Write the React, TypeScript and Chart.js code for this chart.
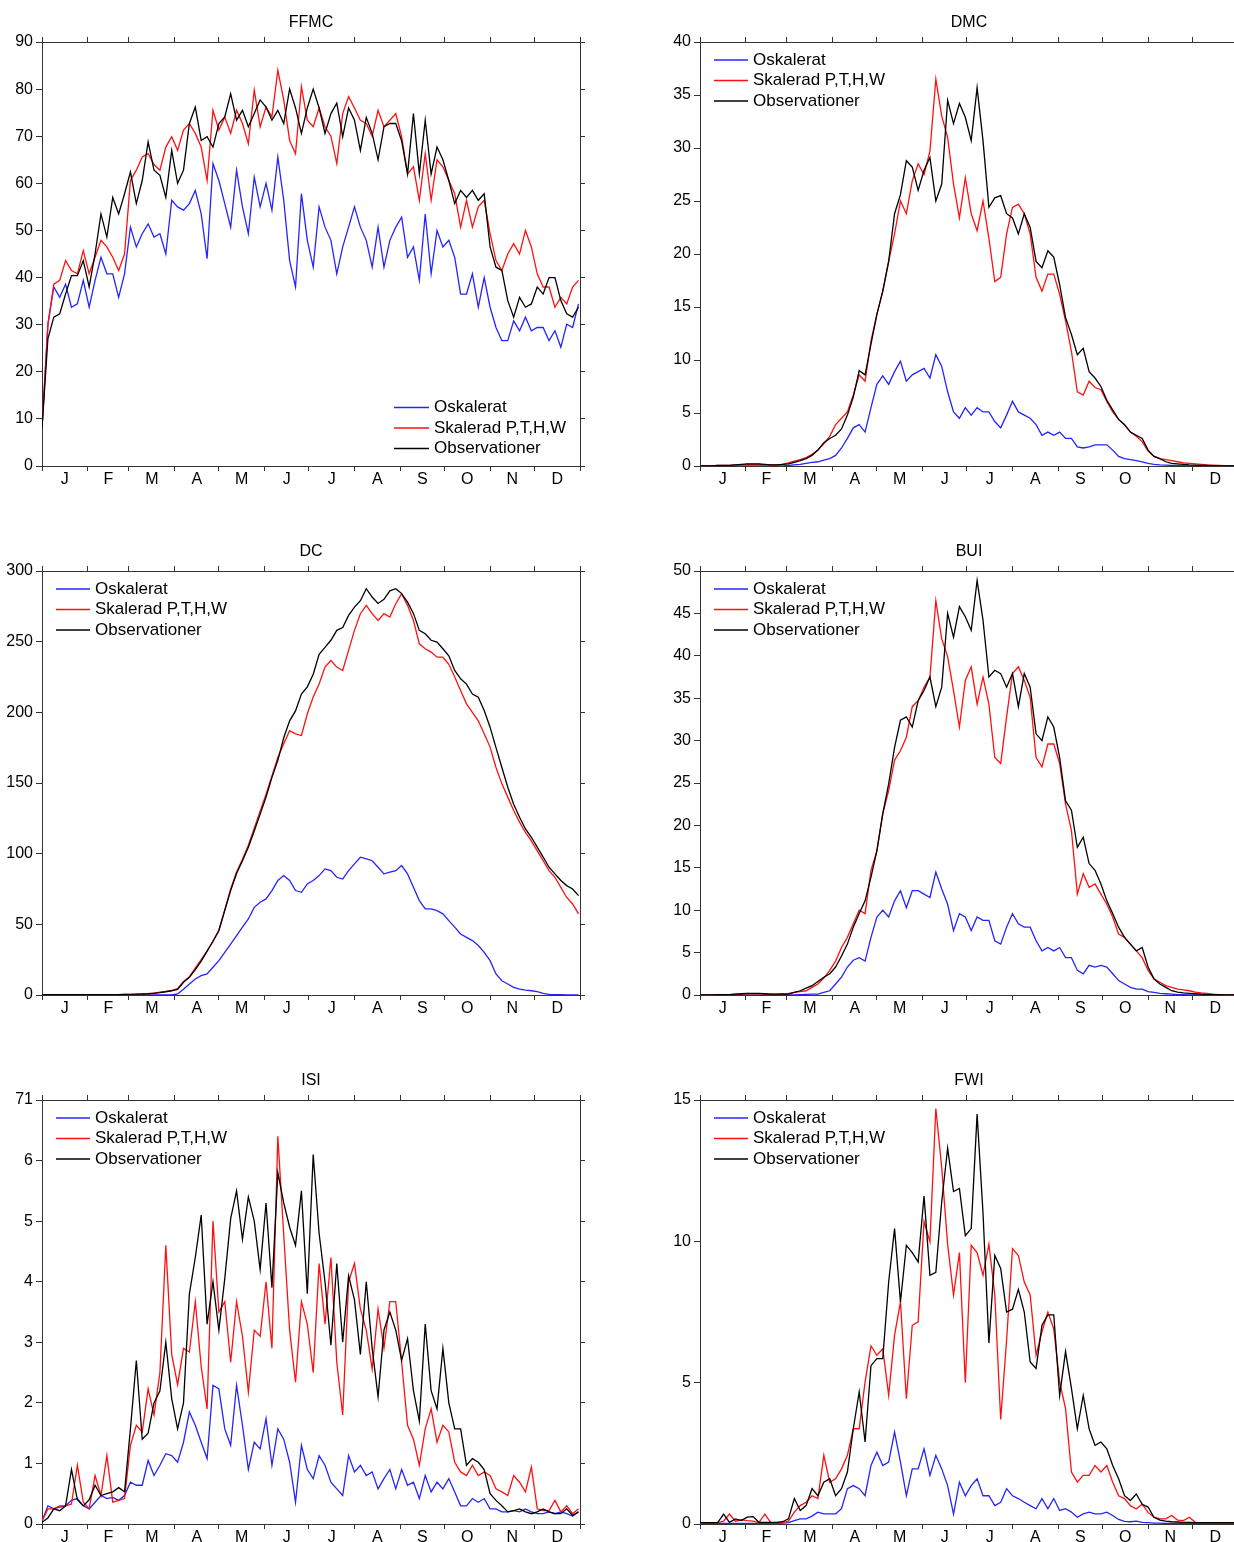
import React, { useEffect, useRef } from 'react';
import { Chart, registerables } from 'chart.js';

Chart.register(...registerables);

const FONT_FAMILY = '"Liberation Sans", Arial, Helvetica, sans-serif';
const AXIS_COLOR = '#333333';

// x positions: day of year, sampled every 4 days (0..364)
const days: number[] = Array.from({ length: 92 }, (_, i) => i * 4);

const monthBounds = [0, 31, 59, 90, 120, 151, 181, 212, 243, 273, 304, 334, 365];
const monthLetters = ['J', 'F', 'M', 'A', 'M', 'J', 'J', 'A', 'S', 'O', 'N', 'D'];

const seriesLabels = ['Oskalerat', 'Skalerad P,T,H,W', 'Observationer'];
const seriesColors = ['#2424ff', '#ff1010', '#000000'];

// ---------------- FFMC ----------------
const ffmcOsk = [
  8, 30, 38, 35.8, 38.6, 33.7, 34.4, 39.4, 33.7, 39.4,
  44.3, 40.8, 40.8, 35.8, 40.8, 50.7, 46.5, 49.3, 51.4, 48.6,
  49.3, 45, 56.4, 55, 54.3, 55.7, 58.5, 53.5, 44, 64.2,
  60.6, 55.7, 50.7, 62.8, 55, 49.3, 61.3, 55, 60, 54.3,
  65.6, 56.4, 43.6, 38, 57.8, 47.9, 42.2, 55, 50.7, 47.9,
  40.8, 46.5, 50.7, 55, 50.7, 47.9, 42.2, 50.7, 42.2, 47.9,
  50.7, 52.8, 44.3, 46.5, 39.4, 53.5, 40.8, 50, 46.5, 47.9,
  44.3, 36.5, 36.5, 40.8, 33.7, 40, 33.7, 29.4, 26.6, 26.6,
  30.8, 28.7, 31.6, 28.7, 29.4, 29.4, 26.6, 28.7, 25.2, 30.1,
  29.4, 34.4,
];
const ffmcSkal = [
  8, 30, 38.6, 39.4, 43.6, 41.5, 40.8, 45.7, 40.8, 44.3,
  47.9, 46.5, 44.3, 41.5, 45, 60.6, 62.8, 65.6, 66.3, 64,
  62.8, 67.7, 69.9, 67, 71.3, 72.7, 70.6, 67.7, 60.6, 75.5,
  71.3, 74.1, 70.6, 75.5, 72.7, 68.4, 79.8, 72, 76.2, 74.1,
  84, 77.7, 69.1, 66.3, 80.5, 73.4, 72, 76, 72, 70,
  64.2, 74.8, 78.4, 76, 73.4, 72.7, 70, 75.5, 72, 73.4,
  74.8, 69.9, 62, 63.5, 56.4, 66.3, 56.4, 65, 63.5, 60.6,
  57.8, 50.7, 56.4, 50.7, 55, 56.4, 49.3, 43.6, 41.5, 45,
  47.2, 45, 50, 46.5, 40.8, 38, 38, 33.7, 35.8, 34.4,
  38, 39.4,
];
const ffmcObs = [
  8, 27, 31.6, 32.3, 36.5, 40.4, 40.4, 43.6, 38, 45,
  53.5, 48.6, 57, 53.5, 57.8, 62.4, 55.7, 60.6, 68.8, 62.8,
  61.7, 57, 67, 60, 62.8, 72.7, 76.2, 69.1, 69.9, 67.7,
  72.7, 74.1, 79, 73.4, 75.5, 72, 74.8, 77.7, 76.2, 73.4,
  75.5, 72.7, 80, 76, 70.6, 76, 80, 76, 70.6, 74.8,
  77, 69.9, 76, 73.4, 67, 74, 70.6, 65, 72, 72.7,
  72.7, 69, 62, 74.8, 62, 73.4, 62, 67.7, 65, 60.6,
  55.7, 58.5, 57, 58.5, 56.4, 57.8, 46.5, 42.2, 41.5, 35.1,
  31.6, 35.8, 33.7, 34.4, 38, 36.5, 40, 40, 35.1, 32.3,
  31.6, 33.7,
];

// ---------------- DMC ----------------
const dmcOsk = [
  0, 0, 0, 0, 0, 0, 0, 0, 0, 0,
  0, 0, 0, 0, 0, 0.05, 0.1, 0.15, 0.25, 0.35,
  0.4, 0.55, 0.7, 1, 1.7, 2.6, 3.6, 3.9, 3.2, 5.5,
  7.7, 8.5, 7.7, 8.9, 9.9, 8, 8.6, 8.9, 9.2, 8.3,
  10.5, 9.4, 7, 5.1, 4.5, 5.5, 4.8, 5.5, 5.1, 5.1,
  4.2, 3.6, 4.8, 6.1, 5.1, 4.8, 4.5, 3.9, 2.9, 3.2,
  2.9, 3.2, 2.6, 2.6, 1.8, 1.7, 1.8, 2, 2, 2,
  1.5, 0.9, 0.7, 0.6, 0.5, 0.4, 0.25, 0.15, 0.1, 0.08,
  0.05, 0.05, 0.03, 0.02, 0.01, 0, 0, 0, 0, 0,
  0, 0,
];
const dmcSkal = [
  0, 0, 0, 0.05, 0.05, 0.05, 0.1, 0.1, 0.15, 0.15,
  0.15, 0.1, 0.1, 0.1, 0.15, 0.3, 0.45, 0.6, 0.8, 1.1,
  1.5, 2.1, 2.8, 3.9, 4.5, 5.1, 6.7, 8.6, 8, 11.8,
  14.3, 16.5, 19.3, 21.9, 25, 23.8, 26.9, 28.5, 27.5, 29.7,
  36.5, 33, 31, 26.6, 23.4, 27.2, 23.8, 22.2, 25, 21.5,
  17.4, 17.8, 21.9, 24.4, 24.7, 23.8, 21.9, 17.8, 16.5, 18.1,
  18.1, 16.2, 13.7, 10.8, 7, 6.7, 8, 7.4, 7.2, 6.1,
  5.1, 4.4, 3.9, 3.2, 2.8, 2.3, 1.4, 0.9, 0.7, 0.6,
  0.5, 0.4, 0.3, 0.25, 0.2, 0.15, 0.1, 0.08, 0.05, 0.03,
  0.02, 0.01,
];
const dmcObs = [
  0, 0, 0, 0.05, 0.05, 0.05, 0.1, 0.15, 0.2, 0.2,
  0.2, 0.15, 0.1, 0.1, 0.15, 0.2, 0.35, 0.5, 0.7, 1,
  1.5, 2.2, 2.6, 2.9, 3.5, 4.8, 6.5, 9, 8.6, 11.5,
  14.3, 16.5, 19.3, 23.8, 25.6, 28.8, 28.2, 26, 27.9, 29.1,
  25, 26.6, 34.5, 32.3, 34.2, 32.9, 30.7, 35.7, 30.7, 24.4,
  25.3, 25.5, 23.8, 23.4, 21.9, 23.8, 22.5, 19.3, 18.7, 20.3,
  19.7, 17.1, 14, 12.4, 10.5, 11.1, 8.9, 8.3, 7.5, 6.2,
  5.3, 4.4, 3.9, 3.2, 2.9, 2.6, 1.5, 0.9, 0.7, 0.4,
  0.25, 0.2, 0.15, 0.1, 0.08, 0.05, 0.05, 0.03, 0.02, 0.02,
  0.01, 0,
];

// ---------------- DC ----------------
const dcOsk = [
  0, 0, 0, 0, 0, 0, 0, 0, 0, 0,
  0, 0, 0, 0, 0, 0, 0, 0, 0, 0,
  0, 0, 0, 0.7, 4, 7.8, 11.3, 13.7, 14.9, 19.6,
  24.3, 30.2, 36, 42, 48, 53.8, 62, 65.6, 68, 73.9,
  81, 84.5, 81, 73.9, 72.7, 78.6, 81, 84.5, 89.2, 88,
  83.3, 82, 88, 92.8, 97.5, 96.3, 95, 90.4, 85.7, 86.9,
  88, 91.6, 85.7, 76.2, 66.8, 61, 61, 59.7, 57.4, 52.6,
  48, 43.2, 40.8, 38.5, 35, 30.2, 24.3, 14.9, 10.1, 7.8,
  5.4, 4.2, 3.5, 3, 2.4, 1.2, 0.5, 0.3, 0.2, 0,
  0, 0,
];
const dcSkal = [
  0.2, 0.2, 0.2, 0.2, 0.2, 0.2, 0.3, 0.3, 0.3, 0.3,
  0.3, 0.3, 0.3, 0.3, 0.4, 0.5, 0.6, 0.8, 1, 1.4,
  2, 2.6, 3.3, 4.5, 9.5, 13, 19, 25, 31, 38,
  46, 60, 75, 87, 96, 106, 118, 130, 142, 155,
  168, 177.7, 187, 184.8, 183.6, 199, 210.8, 220, 232, 236.7,
  232, 229.6, 243.8, 258, 269.8, 275.7, 269.8, 265, 269.8, 267.4,
  276.8, 284, 275.7, 265, 248.5, 245, 242.6, 239, 239, 234,
  225, 215.5, 206, 200, 194, 184.8, 175.4, 161, 149.4, 140,
  130.5, 122.3, 115, 109, 102, 95, 88, 83.3, 76.2, 69,
  64.4, 57.4,
];
const dcObs = [
  0.2, 0.2, 0.2, 0.2, 0.2, 0.2, 0.3, 0.3, 0.3, 0.3,
  0.3, 0.3, 0.3, 0.3, 0.4, 0.5, 0.6, 0.7, 0.9, 1.2,
  1.7, 2.3, 3, 4, 9, 12.5, 18, 24, 31, 38,
  45.5, 60, 74, 86, 95, 104.6, 116, 128, 140, 154,
  166, 182, 194, 201, 213, 218, 227, 241, 246, 251,
  258, 260, 268.6, 274.5, 279, 287.5, 281.6, 277, 280, 286,
  287.5, 284, 278, 270, 258, 255.6, 251, 249.7, 245, 240,
  229.6, 223.7, 220, 213, 210.7, 201.3, 189.5, 175, 161, 147,
  135, 125.8, 117.5, 111.6, 104.6, 97.5, 90.4, 85.7, 81, 77.4,
  75, 70.3,
];

// ---------------- BUI ----------------
const buiOsk = [
  0, 0, 0, 0, 0, 0, 0, 0, 0, 0,
  0, 0, 0, 0, 0, 0, 0.02, 0.05, 0.08, 0.1,
  0.1, 0.3, 0.5, 1.3, 2.1, 3.3, 4.1, 4.4, 4, 6.8,
  9.2, 10, 9.2, 11.1, 12.3, 10.3, 12.3, 12.3, 11.9, 11.5,
  14.5, 12.5, 10.7, 7.6, 9.6, 9.2, 7.6, 9.2, 8.8, 8.8,
  6.4, 6, 8, 9.6, 8.4, 8, 8, 6.4, 5.2, 5.6,
  5.2, 5.6, 4.4, 4.4, 2.9, 2.5, 3.5, 3.3, 3.5, 3.3,
  2.5, 1.7, 1.3, 0.9, 0.7, 0.7, 0.4, 0.3, 0.2, 0.15,
  0.1, 0.05, 0.03, 0.02, 0.01, 0, 0, 0, 0, 0,
  0, 0,
];
const buiSkal = [
  0, 0, 0, 0.05, 0.05, 0.05, 0.1, 0.1, 0.15, 0.15,
  0.15, 0.1, 0.1, 0.1, 0.15, 0.2, 0.3, 0.4, 0.5, 0.9,
  1.3, 2, 2.9, 4, 5.6, 6.8, 8.4, 10, 9.6, 14.7,
  17, 21.4, 24.1, 27.7, 28.8, 30.4, 34, 34.7, 36.3, 37.5,
  46.5, 42, 39.9, 35.9, 31.6, 37.1, 38.7, 34.3, 37.5, 34.3,
  28, 27.3, 32.8, 37.9, 38.7, 37.1, 35.1, 28, 26.9, 29.6,
  29.6, 27.3, 22.5, 19.4, 11.9, 14.3, 12.7, 13.1, 11.9, 10.7,
  9.2, 7.2, 6.8, 6, 5.2, 4.4, 2.9, 1.9, 1.5, 1.1,
  0.9, 0.7, 0.6, 0.5, 0.35, 0.25, 0.2, 0.1, 0.05, 0.03,
  0.02, 0.01,
];
const buiObs = [
  0, 0, 0, 0.05, 0.05, 0.05, 0.1, 0.15, 0.2, 0.2,
  0.2, 0.15, 0.1, 0.1, 0.1, 0.1, 0.3, 0.5, 0.8, 1.1,
  1.6, 2.1, 2.5, 3.3, 4.6, 6, 8, 9.6, 11.1, 13.9,
  17, 21.4, 24.9, 29.2, 32.4, 32.8, 31.6, 34.7, 35.9, 37.5,
  34, 36.3, 45, 42.2, 45.8, 44.6, 43, 48.9, 44.2, 37.5,
  38.3, 37.9, 36.3, 37.9, 34, 37.9, 36.3, 30.8, 30, 32.8,
  31.6, 28, 22.9, 21.8, 17.4, 18.6, 15.5, 14.7, 13.1, 11.1,
  9.6, 8, 6.8, 6, 5.2, 5.6, 3.3, 1.9, 1.3, 0.9,
  0.5, 0.35, 0.25, 0.2, 0.15, 0.1, 0.05, 0.05, 0.03, 0.02,
  0.01, 0,
];

// ---------------- ISI ----------------
const isiOsk = [
  0.05, 0.3, 0.25, 0.28, 0.3, 0.39, 0.42, 0.3, 0.25, 0.36,
  0.47, 0.42, 0.44, 0.39, 0.47, 0.69, 0.64, 0.64, 1.05, 0.8,
  0.97, 1.16, 1.13, 1.02, 1.35, 1.85, 1.63, 1.35, 1.08, 2.29,
  2.23, 1.57, 1.3, 2.29, 1.63, 0.9, 1.35, 1.24, 1.74, 0.97,
  1.57, 1.4, 1.02, 0.36, 1.3, 0.9, 0.75, 1.13, 0.97, 0.69,
  0.58, 0.47, 1.13, 0.86, 0.97, 0.8, 0.86, 0.58, 0.75, 0.9,
  0.58, 0.9, 0.64, 0.69, 0.42, 0.8, 0.53, 0.69, 0.58, 0.75,
  0.53, 0.3, 0.3, 0.42, 0.36, 0.42, 0.25, 0.25, 0.2, 0.2,
  0.22, 0.2, 0.25, 0.2, 0.17, 0.17, 0.2, 0.17, 0.2, 0.17,
  0.13, 0.2,
];
const isiSkal = [
  0.05, 0.25, 0.25, 0.3, 0.3, 0.33, 0.97, 0.36, 0.25, 0.8,
  0.47, 1.13, 0.36, 0.39, 0.42, 1.3, 1.63, 1.52, 2.23, 1.8,
  2.5, 4.6, 2.8, 2.3, 2.9, 2.84, 3.67, 2.6, 1.9, 5,
  3.5, 3.67, 2.67, 3.67, 3.1, 2.18, 3.2, 3.1, 4, 2.9,
  6.4, 4.77, 3.2, 2.34, 3.67, 3.3, 2.5, 4.3, 3.3, 4.4,
  2.67, 1.8, 4, 4.3, 3.55, 3.2, 2.56, 3.55, 2.9, 3.67,
  3.67, 2.67, 1.63, 1.4, 0.97, 1.57, 1.9, 1.35, 1.63, 1.52,
  1.02, 0.86, 0.8, 0.97, 0.8, 0.86, 0.8, 0.58, 0.53, 0.47,
  0.8, 0.69, 0.53, 0.94, 0.25, 0.22, 0.22, 0.39, 0.2, 0.3,
  0.17, 0.25,
];
const isiObs = [
  0.03, 0.1, 0.25, 0.22, 0.3, 0.9, 0.4, 0.3, 0.4, 0.64,
  0.47, 0.5, 0.53, 0.6, 0.53, 1.57, 2.7, 1.4, 1.5, 2,
  2.2, 3, 2.07, 1.57, 2, 3.8, 4.4, 5.1, 3.3, 4,
  3.2, 4.05, 5.04, 5.5, 4.7, 5.4, 5, 4.2, 5.3, 3.9,
  5.8, 5.3, 4.9, 4.6, 5.5, 3.8, 6.1, 4.8, 4, 2.95,
  4.3, 3, 4.1, 3.7, 2.8, 4, 2.9, 2.1, 3.2, 3.5,
  3.2, 2.7, 3.06, 2.2, 1.7, 3.3, 2.2, 1.9, 2.9, 2,
  1.57, 1.57, 0.97, 1.08, 1.02, 0.9, 0.5, 0.39, 0.3, 0.2,
  0.22, 0.25, 0.2, 0.17, 0.2, 0.25, 0.2, 0.17, 0.17, 0.25,
  0.14, 0.2,
];

// ---------------- FWI ----------------
const fwiOsk = [
  0.02, 0.02, 0.02, 0.02, 0.02, 0.02, 0.02, 0.02, 0.02, 0.02,
  0.02, 0.02, 0.02, 0.02, 0.03, 0.05, 0.12, 0.18, 0.18, 0.28,
  0.42, 0.36, 0.36, 0.36, 0.54, 1.25, 1.36, 1.25, 1, 2.07,
  2.54, 2.07, 2.19, 3.25, 2.19, 1, 1.95, 1.95, 2.66, 1.72,
  2.43, 1.95, 1.36, 0.35, 1.48, 1, 1.36, 1.6, 1, 1,
  0.65, 0.77, 1.25, 1, 0.9, 0.77, 0.65, 0.54, 0.9, 0.54,
  0.9, 0.48, 0.54, 0.42, 0.24, 0.36, 0.42, 0.36, 0.36, 0.42,
  0.3, 0.16, 0.09, 0.08, 0.1, 0.06, 0.05, 0.03, 0.03, 0.02,
  0.02, 0.02, 0.02, 0.02, 0.02, 0.02, 0.02, 0.02, 0.02, 0.02,
  0.02, 0.02,
];
const fwiSkal = [
  0.05, 0.05, 0.05, 0.05, 0.1, 0.35, 0.1, 0.15, 0.12, 0.1,
  0.05, 0.35, 0.05, 0.05, 0.05, 0.1, 0.42, 0.65, 0.77, 1,
  0.9, 2.43, 1.48, 1.6, 1.95, 2.43, 3.37, 3.37, 5.03, 6.3,
  5.97, 6.2, 4.55, 6.68, 7.86, 4.43, 7.03, 7.15, 10.7, 9.98,
  14.7, 12.6, 9.9, 8.1, 9.6, 5, 9.86, 9.6, 8.8, 9.9,
  8.1, 3.7, 6.5, 9.74, 9.5, 8.56, 8.1, 5.97, 6.8, 7.5,
  6.9, 5.03, 4.08, 1.84, 1.48, 1.72, 1.72, 2.07, 1.84, 2.07,
  1.48, 1, 0.9, 0.65, 0.53, 0.7, 0.41, 0.24, 0.18, 0.18,
  0.3, 0.14, 0.12, 0.24, 0.06, 0.05, 0.05, 0.05, 0.05, 0.05,
  0.05, 0.05,
];
const fwiObs = [
  0.05, 0.05, 0.05, 0.05, 0.35, 0.06, 0.18, 0.12, 0.24, 0.26,
  0.06, 0.06, 0.06, 0.06, 0.08, 0.18, 0.9, 0.48, 0.65, 1.25,
  1, 1.48, 1.6, 1, 1.25, 1.84, 3.37, 4.67, 2.9, 5.6,
  5.85, 5.85, 8.56, 10.45, 7.86, 9.86, 9.6, 9.27, 11.6, 8.8,
  8.9, 11.4, 13.3, 11.76, 11.87, 10.2, 10.45, 14.5, 11, 6.4,
  9.5, 9.04, 7.5, 7.6, 8.3, 7.5, 5.73, 5.5, 7.03, 7.4,
  7.4, 4.55, 6.1, 4.8, 3.37, 4.55, 3.37, 2.78, 2.9, 2.66,
  2.07, 1.6, 1, 0.83, 1.06, 0.7, 0.6, 0.24, 0.14, 0.1,
  0.08, 0.07, 0.06, 0.06, 0.05, 0.05, 0.05, 0.05, 0.05, 0.05,
  0.05, 0.05,
];

// y tick values per panel
const ffmcTicks = [0, 10, 20, 30, 40, 50, 60, 70, 80, 90];
const dmcTicks = [0, 5, 10, 15, 20, 25, 30, 35, 40];
const dcTicks = [0, 50, 100, 150, 200, 250, 300];
const buiTicks = [0, 5, 10, 15, 20, 25, 30, 35, 40, 45, 50];
const isiTicks = [0, 1, 2, 3, 4, 5, 6, 7];
const isiTickLabels = ['0', '1', '2', '3', '4', '5', '6', '71'];
const fwiTicks = [0, 5, 10, 15];

type PanelCfg = {
  title: string;
  left: number;
  top: number;
  yTicks: number[];
  yLabels?: string[];
  series: number[][];
  legend: 'tl' | 'br';
};

const panels: PanelCfg[] = [
  { title: 'FFMC', left: 0, top: 0, yTicks: ffmcTicks, series: [ffmcOsk, ffmcSkal, ffmcObs], legend: 'br' },
  { title: 'DMC', left: 658, top: 0, yTicks: dmcTicks, series: [dmcOsk, dmcSkal, dmcObs], legend: 'tl' },
  { title: 'DC', left: 0, top: 529, yTicks: dcTicks, series: [dcOsk, dcSkal, dcObs], legend: 'tl' },
  { title: 'BUI', left: 658, top: 529, yTicks: buiTicks, series: [buiOsk, buiSkal, buiObs], legend: 'tl' },
  { title: 'ISI', left: 0, top: 1058, yTicks: isiTicks, yLabels: isiTickLabels, series: [isiOsk, isiSkal, isiObs], legend: 'tl' },
  { title: 'FWI', left: 658, top: 1058, yTicks: fwiTicks, series: [fwiOsk, fwiSkal, fwiObs], legend: 'tl' },
];

const CANVAS_W = 600;
const CANVAS_H = 529;

const monthCenters = monthBounds.slice(0, 12).map((b, i) => (b + monthBounds[i + 1]) / 2);
const xTickValues = [...monthBounds, ...monthCenters].sort((a, b) => a - b);

function Panel({ cfg }: { cfg: PanelCfg }) {
  const ref = useRef<HTMLCanvasElement | null>(null);

  useEffect(() => {
    const canvas = ref.current;
    if (!canvas) return;
    const yMax = cfg.yTicks[cfg.yTicks.length - 1];
    const tickFont = { family: FONT_FAMILY, size: 16, lineHeight: 1 };

    const decor = {
      id: 'panelDecor',
      afterDatasetsDraw(chart: any) {
        const { ctx, chartArea } = chart;
        ctx.save();
        ctx.fillStyle = '#000';
        ctx.font = `16px ${FONT_FAMILY}`;
        ctx.textAlign = 'center';
        ctx.textBaseline = 'middle';
        ctx.fillText(cfg.title, (chartArea.left + chartArea.right) / 2, chartArea.top - 19);

        ctx.font = `17px ${FONT_FAMILY}`;
        ctx.textAlign = 'left';
        for (let k = 0; k < 3; k++) {
          let x0: number, x1: number, tx: number, y: number;
          if (cfg.legend === 'tl') {
            x0 = chartArea.left + 14;
            x1 = chartArea.left + 48;
            tx = chartArea.left + 53;
            y = chartArea.top + 18 + k * 20.5;
          } else {
            x0 = chartArea.left + 352;
            x1 = chartArea.left + 387;
            tx = chartArea.left + 392;
            y = chartArea.bottom - 58.5 + k * 20.5;
          }
          ctx.strokeStyle = seriesColors[k];
          ctx.lineWidth = 1.3;
          ctx.beginPath();
          ctx.moveTo(x0, y);
          ctx.lineTo(x1, y);
          ctx.stroke();
          ctx.fillStyle = '#000';
          ctx.fillText(seriesLabels[k], tx, y);
        }
        ctx.restore();
      },
    };

    const isBound = (v: number) => monthBounds.includes(v);

    const chart = new Chart(canvas, {
      type: 'line',
      data: {
        datasets: cfg.series.map((arr, k) => ({
          label: seriesLabels[k],
          data: days.map((d, i) => ({ x: d, y: arr[i] })),
          borderColor: seriesColors[k],
          backgroundColor: seriesColors[k],
          borderWidth: 1.3,
          pointRadius: 0,
          tension: 0,
          fill: false,
          order: 2 - k,
          xAxisID: 'x',
          yAxisID: 'y',
        })),
      },
      options: {
        responsive: false,
        animation: false,
        devicePixelRatio: 1,
        events: [],
        layout: { padding: 0 },
        plugins: {
          legend: { display: false },
          title: { display: false },
          tooltip: { enabled: false },
        },
        scales: {
          x: {
            type: 'linear',
            position: 'bottom',
            min: 0,
            max: 365,
            afterBuildTicks: (s: any) => {
              s.ticks = xTickValues.map((v) => ({ value: v }));
            },
            afterFit: (s: any) => {
              s.height = CANVAS_H - 466;
            },
            ticks: {
              autoSkip: false,
              maxRotation: 0,
              minRotation: 0,
              padding: 1,
              color: '#000',
              font: tickFont,
              callback: (v: any) => {
                const idx = monthCenters.indexOf(Number(v));
                return idx >= 0 ? monthLetters[idx] : '';
              },
            },
            grid: {
              drawOnChartArea: false,
              drawTicks: true,
              tickLength: 5,
              color: AXIS_COLOR,
              tickColor: (c: any) => (c.tick && isBound(c.tick.value) ? AXIS_COLOR : 'rgba(0,0,0,0)'),
            },
            border: { display: true, color: AXIS_COLOR, width: 1 },
          },
          xTop: {
            type: 'linear',
            position: 'top',
            min: 0,
            max: 365,
            afterBuildTicks: (s: any) => {
              s.ticks = monthBounds.map((v) => ({ value: v }));
            },
            afterFit: (s: any) => {
              s.height = 42;
            },
            ticks: { display: false },
            grid: { drawOnChartArea: false, drawTicks: true, tickLength: 5, color: AXIS_COLOR, tickColor: AXIS_COLOR },
            border: { display: true, color: AXIS_COLOR, width: 1 },
          },
          y: {
            type: 'linear',
            position: 'left',
            min: 0,
            max: yMax,
            afterBuildTicks: (s: any) => {
              s.ticks = cfg.yTicks.map((v) => ({ value: v }));
            },
            afterFit: (s: any) => {
              s.width = 42;
            },
            ticks: {
              padding: 3,
              color: '#000',
              font: tickFont,
              callback: (v: any) => {
                const idx = cfg.yTicks.indexOf(Number(v));
                if (cfg.yLabels && idx >= 0) return cfg.yLabels[idx];
                return String(v);
              },
            },
            grid: { drawOnChartArea: false, drawTicks: true, tickLength: 6, color: AXIS_COLOR, tickColor: AXIS_COLOR },
            border: { display: true, color: AXIS_COLOR, width: 1 },
          },
          yRight: {
            type: 'linear',
            position: 'right',
            min: 0,
            max: yMax,
            afterBuildTicks: (s: any) => {
              s.ticks = cfg.yTicks.map((v) => ({ value: v }));
            },
            afterFit: (s: any) => {
              s.width = 20;
            },
            ticks: { display: false },
            grid: { drawOnChartArea: false, drawTicks: true, tickLength: 5, color: AXIS_COLOR, tickColor: AXIS_COLOR },
            border: { display: true, color: AXIS_COLOR, width: 1 },
          },
        },
      } as any,
      plugins: [decor],
    });

    return () => {
      chart.destroy();
    };
  }, [cfg]);

  return (
    <canvas
      ref={ref}
      width={CANVAS_W}
      height={CANVAS_H}
      style={{
        position: 'absolute',
        left: cfg.left,
        top: cfg.top,
        width: CANVAS_W,
        height: CANVAS_H,
        display: 'block',
      }}
    />
  );
}

export default function App() {
  return (
    <div
      style={{
        position: 'absolute',
        left: 0,
        top: 0,
        width: 1234,
        height: 1542,
        overflow: 'hidden',
        background: '#ffffff',
      }}
    >
      {panels.map((p) => (
        <Panel key={p.title} cfg={p} />
      ))}
    </div>
  );
}
